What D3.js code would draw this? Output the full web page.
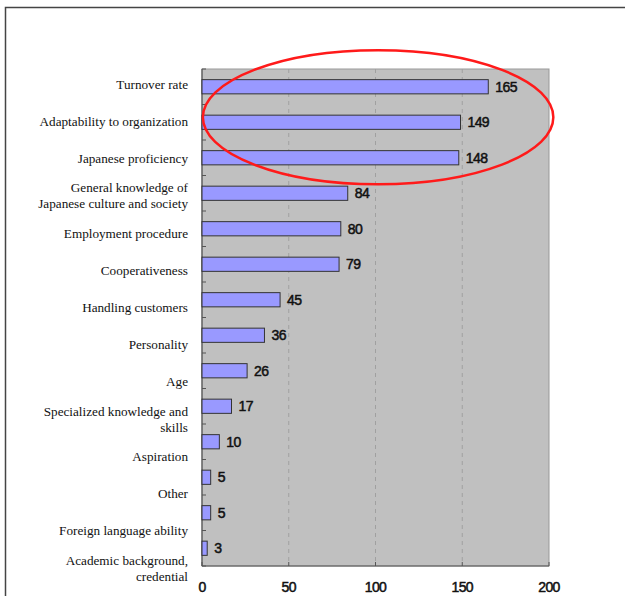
<!DOCTYPE html>
<html>
<head>
<meta charset="utf-8">
<script src="https://cdn.jsdelivr.net/npm/d3@7"></script>
<style>
  body { margin: 0; background: #fff; }
  .cat { font-family: "Liberation Serif", "Times New Roman", serif; font-size: 13.2px; fill: #111; }
  .num { font-family: "Liberation Sans", Arial, sans-serif; font-size: 14px; fill: #111; letter-spacing: -0.6px; stroke: #111; stroke-width: 0.5px; }
</style>
</head>
<body>
<div id="chart"></div>
<script>
const categories = [
  "Turnover rate",
  "Adaptability to organization",
  "Japanese proficiency",
  "General knowledge of\nJapanese culture and society",
  "Employment procedure",
  "Cooperativeness",
  "Handling customers",
  "Personality",
  "Age",
  "Specialized knowledge and\nskills",
  "Aspiration",
  "Other",
  "Foreign language ability",
  "Academic background,\ncredential"
];
const values = [165, 149, 148, 84, 80, 79, 45, 36, 26, 17, 10, 5, 5, 3];
const xTicks = [0, 50, 100, 150, 200];
const gridTicks = [50, 100, 150];

const width = 625, height = 596;
const plot = {left: 202, right: 549, top: 69, bottom: 566};

const svg = d3.select("#chart").append("svg")
  .attr("width", width)
  .attr("height", height);

// outer frame (runs off the page)
svg.append("rect")
  .attr("x", 5.5).attr("y", 7.5)
  .attr("width", 800).attr("height", 800)
  .attr("fill", "none").attr("stroke", "#444").attr("stroke-width", 1.5);

const x = d3.scaleLinear().domain([0, 200]).range([plot.left, plot.right]);
const y = d3.scaleBand().domain(d3.range(categories.length))
  .range([plot.top, plot.bottom]).paddingInner(0.6).paddingOuter(0.3);
// category text sits on its own evenly spaced points
const yLab = d3.scalePoint().domain(d3.range(categories.length)).range([84, 568]);

// plot background
svg.append("rect")
  .attr("x", plot.left).attr("y", plot.top)
  .attr("width", plot.right - plot.left).attr("height", plot.bottom - plot.top)
  .attr("fill", "#c0c0c0").attr("stroke", "#999").attr("stroke-width", 1);

// dashed gridlines
svg.selectAll("line.grid").data(gridTicks).join("line")
  .attr("class", "grid")
  .attr("x1", d => x(d)).attr("x2", d => x(d))
  .attr("y1", plot.top).attr("y2", plot.bottom)
  .attr("stroke", "#a0a0a0").attr("stroke-dasharray", "4,4");

// left axis: ticks on band boundaries, pointing inward
const step = y.step();
const bounds = d3.range(categories.length + 1).map(i => plot.top + i * step);
svg.append("line")
  .attr("x1", plot.left).attr("x2", plot.left)
  .attr("y1", plot.top).attr("y2", plot.bottom)
  .attr("stroke", "#555").attr("stroke-width", 1.2);
svg.selectAll("line.ytick").data(bounds).join("line")
  .attr("class", "ytick")
  .attr("x1", plot.left).attr("x2", plot.left + 4)
  .attr("y1", d => d).attr("y2", d => d)
  .attr("stroke", "#555");

// bottom axis
svg.append("line")
  .attr("x1", plot.left).attr("x2", plot.right)
  .attr("y1", plot.bottom).attr("y2", plot.bottom)
  .attr("stroke", "#555").attr("stroke-width", 1.2);
svg.selectAll("line.xtick").data(xTicks).join("line")
  .attr("class", "xtick")
  .attr("x1", d => x(d)).attr("x2", d => x(d))
  .attr("y1", plot.bottom).attr("y2", plot.bottom - 4)
  .attr("stroke", "#555");
svg.selectAll("text.xlab").data(xTicks).join("text")
  .attr("class", "num xlab")
  .attr("x", d => x(d)).attr("y", plot.bottom + 21)
  .attr("dy", "0.35em")
  .attr("text-anchor", "middle")
  .text(d => d);

// bars
svg.selectAll("rect.bar").data(values).join("rect")
  .attr("class", "bar")
  .attr("x", x(0))
  .attr("y", (d, i) => y(i))
  .attr("width", d => x(d) - x(0))
  .attr("height", y.bandwidth())
  .attr("fill", "#9999ff").attr("stroke", "#333").attr("stroke-width", 1);

// value labels
svg.selectAll("text.val").data(values).join("text")
  .attr("class", "num val")
  .attr("x", d => x(d) + 7)
  .attr("y", (d, i) => y(i) + y.bandwidth() / 2)
  .attr("dy", "0.36em")
  .text(d => d);

// category labels
const lineH = 16;
svg.selectAll("text.cat").data(categories).join("text")
  .attr("class", "cat")
  .attr("text-anchor", "end")
  .each(function(d, i) {
    const lines = d.split("\n");
    const top = yLab(i) - (lines.length - 1) * lineH / 2;
    d3.select(this).selectAll("tspan").data(lines).join("tspan")
      .attr("x", 188)
      .attr("y", (l, j) => top + j * lineH)
      .attr("dy", "0.35em")
      .text(l => l);
  });

// red highlight ellipse around the top three
svg.append("ellipse")
  .attr("cx", x(101.5))
  .attr("cy", (y(0) + y(2) + y.bandwidth()) / 2 - 5)
  .attr("rx", x(101) - x(0))
  .attr("ry", 67)
  .attr("fill", "none").attr("stroke", "#ff1a1a").attr("stroke-width", 2.5);
</script>
</body>
</html>
